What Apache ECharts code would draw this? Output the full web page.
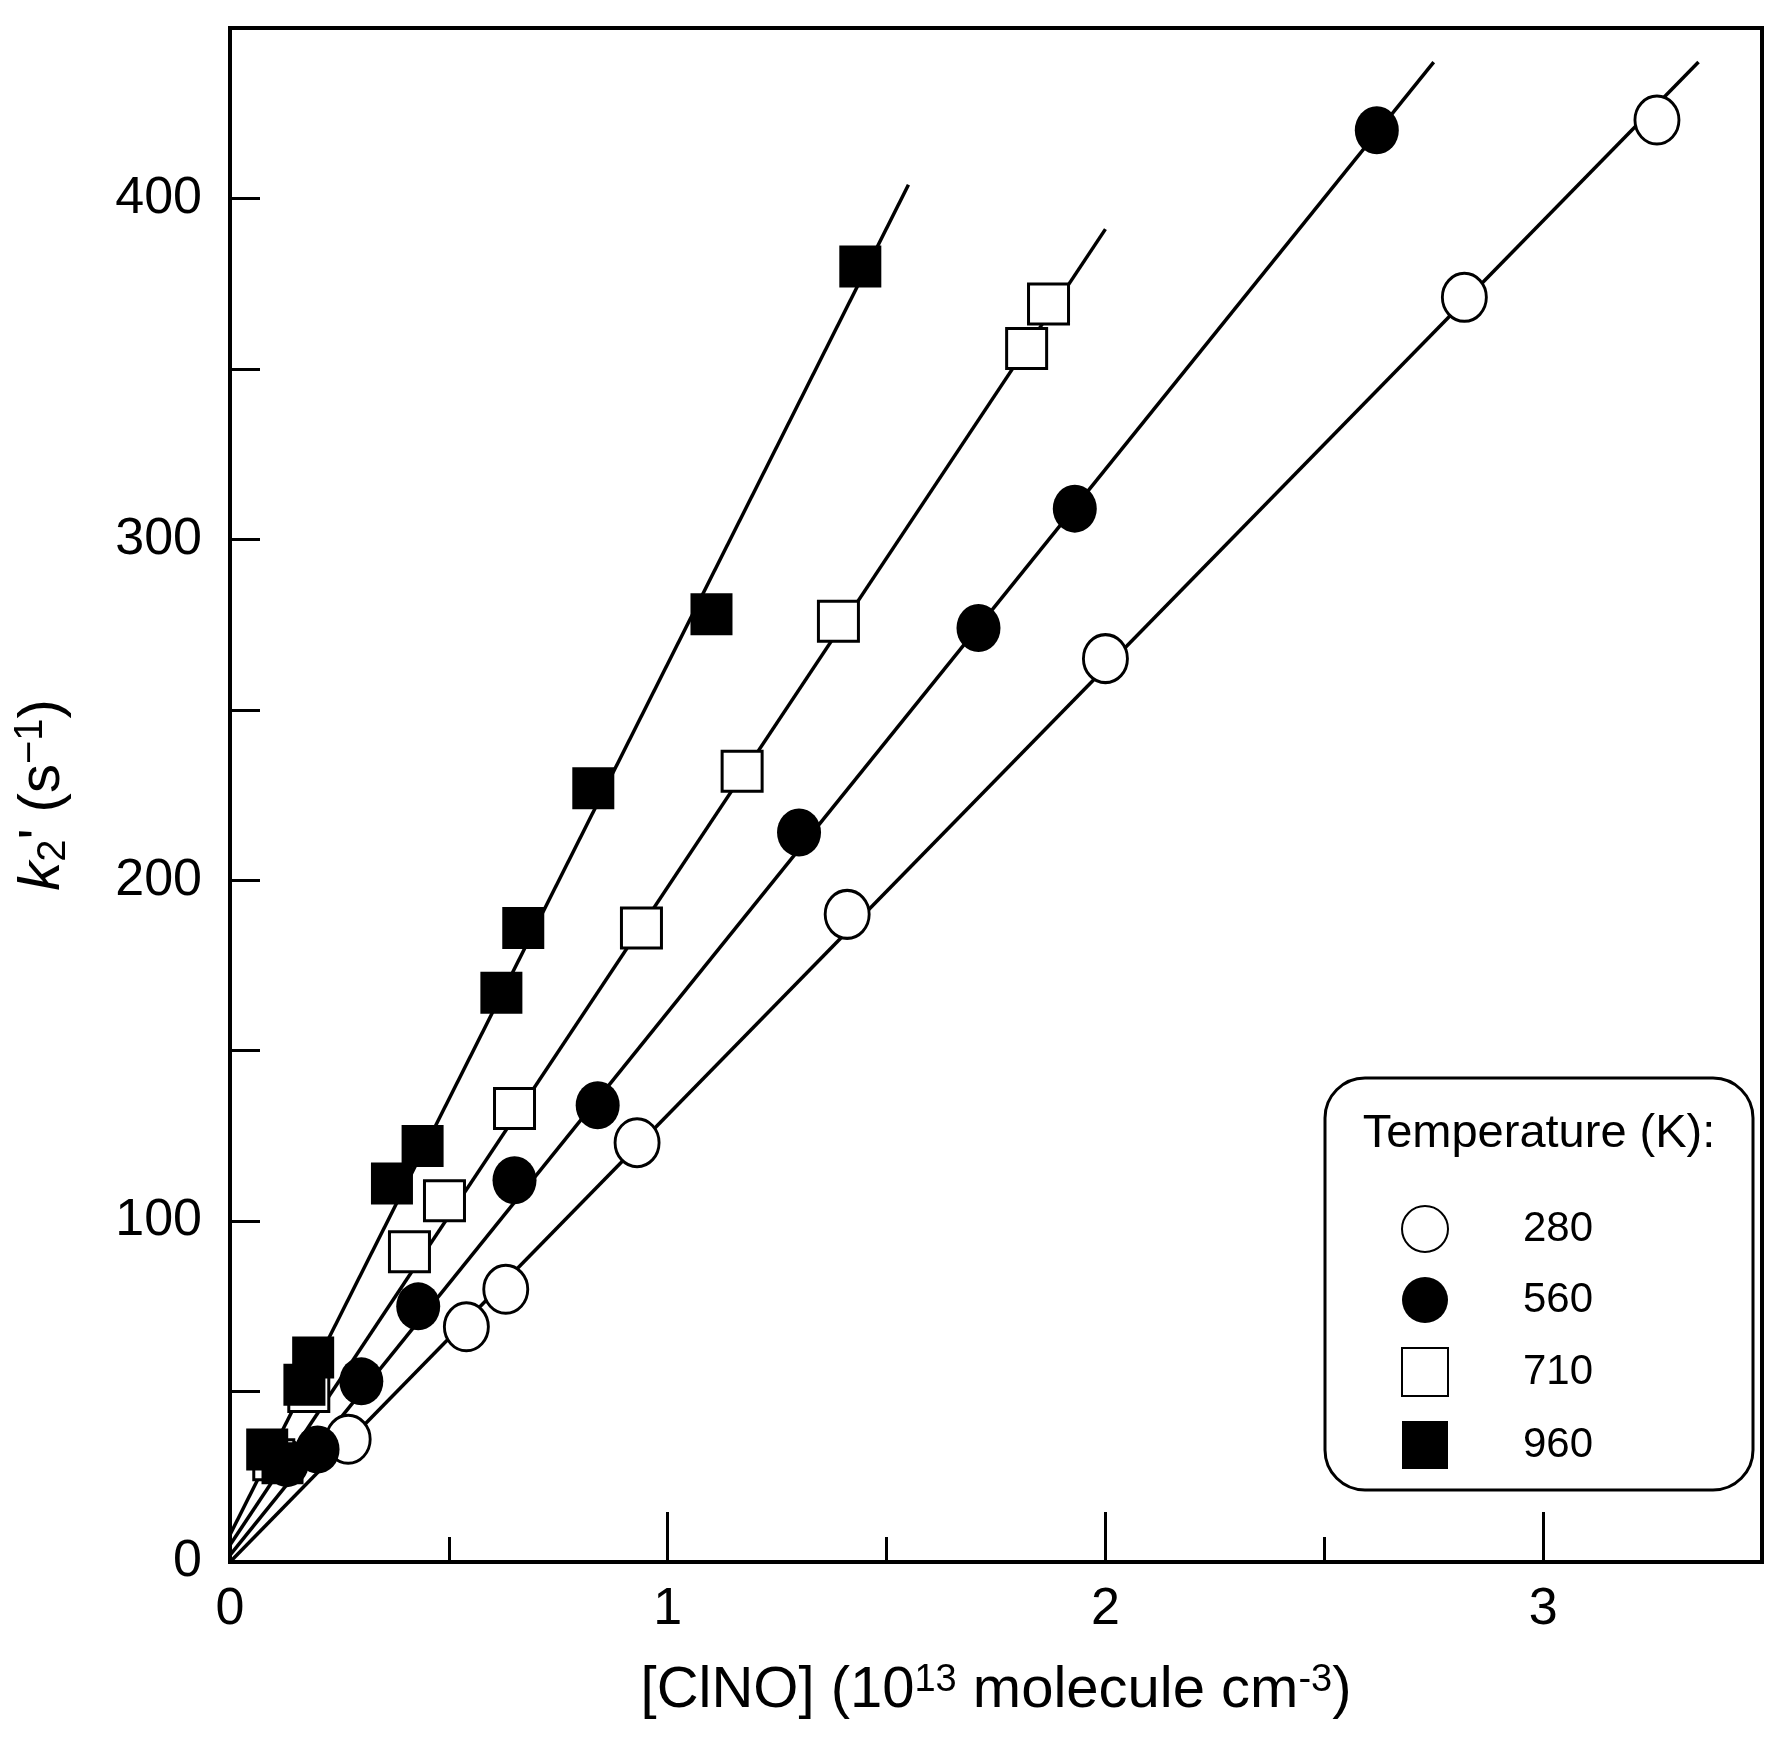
<!DOCTYPE html>
<html><head><meta charset="utf-8">
<script src="https://cdn.jsdelivr.net/npm/echarts@6/dist/echarts.min.js"></script>
<style>html,body{margin:0;background:#fff}#c{width:1779px;height:1749px}</style>
</head><body><div id="c"></div>
<script>
const temps = ['280','560','710','960'];
const x280 = [0.27,0.54,0.63,0.93,1.41,2.0,2.82,3.26];
const y280 = [36,69,80,123,190,265,371,423];
const x560 = [0.13,0.2,0.3,0.43,0.65,0.84,1.30,1.71,1.93,2.62];
const y560 = [29,33,53,75,112,134,214,274,309,420];
const x710 = [0.1,0.18,0.41,0.49,0.65,0.94,1.17,1.39,1.82,1.87];
const y710 = [30,50,91,106,133,186,232,276,356,369];
const x960 = [0.085,0.12,0.17,0.19,0.37,0.44,0.62,0.67,0.83,1.1,1.44];
const y960 = [33,29,52,60,111,122,167,186,227,278,380];
// fitted lines: [x0,y0,x1,y1]
const fit280 = [0,0,3.355,440];
const fit560 = [0,2,2.75,440];
const fit710 = [0,5,2.0,391];
const fit960 = [0,8,1.55,404];
const xTicks = [0,1,2,3];
const yTicks = [0,100,200,300,400];

const zip=(a,b)=>a.map((v,i)=>[v,b[i]]);
const styles = [
 {symbol:'circle',size:[44,48],fill:'#fff',bw:3},
 {symbol:'circle',size:[44,48],fill:'#000',bw:0},
 {symbol:'rect',size:[40,40],fill:'#fff',bw:3},
 {symbol:'rect',size:[42,42],fill:'#000',bw:0}
];
const xs=[x280,x560,x710,x960], ys=[y280,y560,y710,y960], fits=[fit280,fit560,fit710,fit960];
const series=[];
fits.forEach((f,i)=>series.push({type:'line',name:'fit'+temps[i],data:[[f[0],f[1]],[f[2],f[3]]],
  symbol:'none',lineStyle:{color:'#000',width:3.5},z:1,silent:true}));
temps.forEach((t,i)=>series.push({type:'scatter',name:t,data:zip(xs[i],ys[i]),symbol:styles[i].symbol,
  symbolSize:styles[i].size,itemStyle:{color:styles[i].fill,borderColor:'#000',borderWidth:styles[i].bw,opacity:1},z:3}));

const chart=echarts.init(document.getElementById('c'));
const ff='Liberation Sans, Arial, sans-serif';
chart.setOption({
 animation:false,
 grid:{left:230,top:28,width:1532,height:1534,show:true,borderColor:'#000',borderWidth:4,backgroundColor:'transparent'},
 xAxis:[
  {type:'value',min:0,max:3.5,interval:1,
   axisLine:{lineStyle:{color:'#000',width:4}},
   axisTick:{inside:true,length:50,lineStyle:{color:'#000',width:3}},
   axisLabel:{color:'#000',fontSize:52,fontFamily:ff,margin:22,formatter:v=>xTicks.includes(v)?String(v):''},
   splitLine:{show:false},
   name:'{t|[ClNO] (10}{s|13}{t| molecule cm}{s|-3}{t|)}',nameLocation:'middle',nameGap:100,
   nameTextStyle:{rich:{t:{fontSize:58,fontFamily:ff,color:'#000'},s:{fontSize:38,fontFamily:ff,color:'#000',verticalAlign:'top',lineHeight:58,padding:[0,0,22,0]}}}},
  {type:'value',min:0,max:3.5,interval:0.5,position:'bottom',
   axisLine:{show:false},axisTick:{inside:true,length:25,lineStyle:{color:'#000',width:3}},
   axisLabel:{show:false},splitLine:{show:false}}
 ],
 yAxis:{type:'value',min:0,max:450,interval:50,
   axisLine:{lineStyle:{color:'#000',width:4}},
   axisTick:{inside:true,length:30,lineStyle:{color:'#000',width:3}},
   axisLabel:{color:'#000',fontSize:52,fontFamily:ff,margin:28,formatter:v=>yTicks.includes(v)?String(v):''},
   splitLine:{show:false},
   name:'{k|k}{s|2}{t|\' (s}{p|−1}{t|)}',nameLocation:'middle',nameGap:155,nameRotate:90,
   nameTextStyle:{rich:{
     k:{fontSize:58,fontStyle:'italic',fontFamily:ff,color:'#000'},
     t:{fontSize:58,fontFamily:ff,color:'#000'},
     s:{fontSize:40,fontFamily:ff,color:'#000',padding:[22,0,0,0]},
     p:{fontSize:40,fontFamily:ff,color:'#000',padding:[0,0,24,0]}}}},
 legend:{data:temps,orient:'vertical',left:1396,top:1200,itemGap:24,itemWidth:46,itemHeight:48,z:20,
   textStyle:{fontSize:42,fontFamily:ff,color:'#000',padding:[0,0,0,70]}},
 graphic:[
  {type:'rect',shape:{x:1325,y:1078,width:428,height:412,r:40},style:{fill:'#fff',stroke:'#000',lineWidth:3},z:2},
  {type:'text',x:1539,y:1134,style:{text:'Temperature (K):',fontSize:47,fontFamily:ff,fill:'#000',align:'center',verticalAlign:'middle'},z:6}
 ],
 series
});
</script></body></html>
